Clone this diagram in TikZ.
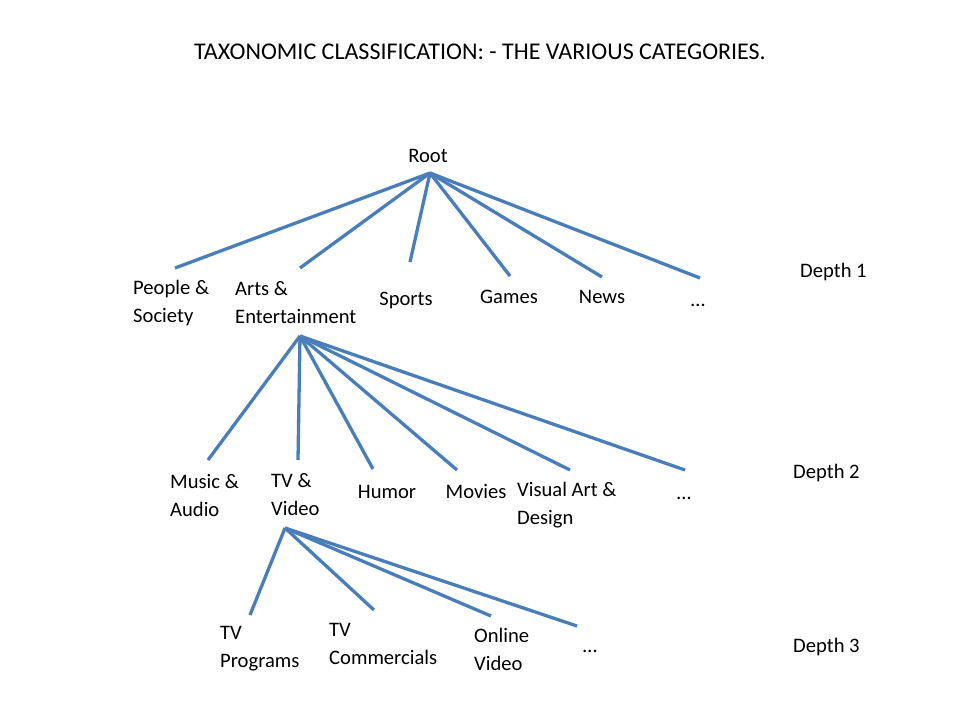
\documentclass[tikz,border=0pt]{standalone}
\usepackage{fontspec}
\setmainfont{Carlito}
\definecolor{edgeblue}{RGB}{74,126,187}
\begin{document}
\begin{tikzpicture}[x=1pt,y=-1pt,
  lbl/.style={font=\fontsize{20.6}{28}\selectfont, inner sep=0pt, align=left},
  conn/.style={draw=edgeblue, line width=3.3pt}]
\useasboundingbox[fill=white] (0,0) rectangle (960,720);
% title
\node[font=\fontsize{24}{28}\selectfont, inner sep=0pt] (title) at (480,52) {TAXONOMIC CLASSIFICATION: - THE VARIOUS CATEGORIES.};
% root
\node[lbl, anchor=base] (root) at (428,162) {Root};
\coordinate (hub0) at (430,173);
% depth 1
\node[lbl, anchor=west] (people) at (133,303) {People \&\\Society};
\node[lbl, anchor=west] (arts) at (235,303) {Arts \&\\Entertainment};
\node[lbl, anchor=base] (sports) at (406,305) {Sports};
\node[lbl, anchor=base] (games) at (509,303) {Games};
\node[lbl, anchor=base] (news) at (602,303) {News};
\node[lbl, anchor=base] (dots1) at (698,306) {…};
\node[lbl, anchor=base west] (d1) at (800,277) {Depth 1};
\coordinate (e1a) at (175,268);
\coordinate (e1b) at (300,268);
\coordinate (e1c) at (410,262);
\coordinate (e1d) at (510,276);
\coordinate (e1e) at (602,277);
\coordinate (e1f) at (700,278);
\foreach \e in {e1a,e1b,e1c,e1d,e1e,e1f} \draw[conn] (hub0) -- (\e);
% depth 2
\coordinate (hub1) at (300,336);
\node[lbl, anchor=west] (music) at (170,495) {Music \&\\Audio};
\node[lbl, anchor=west] (tv) at (271,495) {TV \&\\Video};
\node[lbl, anchor=base] (humor) at (387,498) {Humor};
\node[lbl, anchor=base] (movies) at (476,498) {Movies};
\node[lbl, anchor=west] (visual) at (517,505) {Visual Art \&\\Design};
\node[lbl, anchor=base] (dots2) at (684,499) {…};
\node[lbl, anchor=base west] (d2) at (793,478) {Depth 2};
\coordinate (e2a) at (208,460);
\coordinate (e2b) at (298,460);
\coordinate (e2c) at (373,469);
\coordinate (e2d) at (457,470);
\coordinate (e2e) at (570,470);
\coordinate (e2f) at (685,470);
\foreach \e in {e2a,e2b,e2c,e2d,e2e,e2f} \draw[conn] (hub1) -- (\e);
% depth 3
\coordinate (hub2) at (285,528);
\node[lbl, anchor=west] (progs) at (220,649) {TV\\Programs};
\node[lbl, anchor=west] (comm) at (329,644) {TV\\Commercials};
\node[lbl, anchor=west] (online) at (474,649) {Online\\Video};
\node[lbl, anchor=base] (dots3) at (590,652) {…};
\node[lbl, anchor=base west] (d3) at (793,652) {Depth 3};
\coordinate (e3a) at (250,615);
\coordinate (e3b) at (374,610);
\coordinate (e3c) at (491,616);
\coordinate (e3d) at (577,626);
\foreach \e in {e3a,e3b,e3c,e3d} \draw[conn] (hub2) -- (\e);
\end{tikzpicture}
\end{document}
